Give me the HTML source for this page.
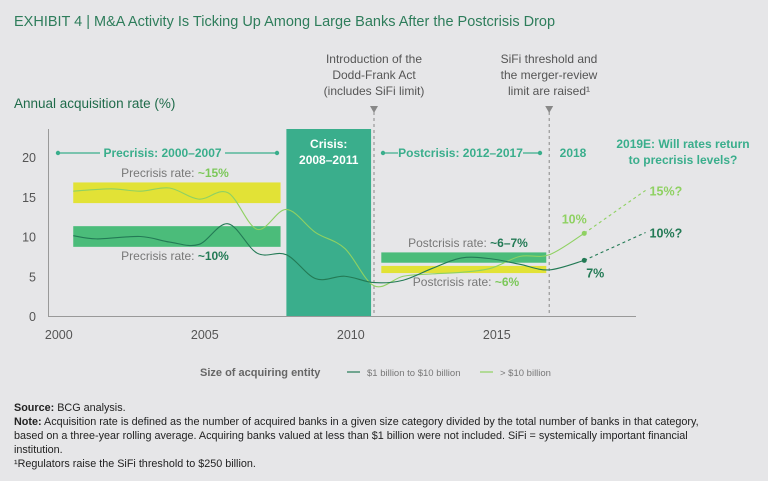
<!DOCTYPE html>
<html><head><meta charset="utf-8"><style>
body{margin:0;background:#e6e6e8;width:768px;height:481px;overflow:hidden;font-family:"Liberation Sans",sans-serif}
svg{position:absolute;left:0;top:0}
.notes{position:absolute;left:14px;top:401px;width:706px;font-size:10.8px;line-height:14px;color:#222}
</style></head><body>
<svg id="chart" width="768" height="395"></svg>
<div class="notes">
<div><b>Source:</b> BCG analysis.</div>
<div><b>Note:</b> Acquisition rate is defined as the number of acquired banks in a given size category divided by the total number of banks in that category, based on a three-year rolling average. Acquiring banks valued at less than $1 billion were not included. SiFi = systemically important financial institution.</div>
<div>¹Regulators raise the SiFi threshold to $250 billion.</div>
</div>
<script>
const yearsDark=[2000.7,2001.5,2003,2004,2005,2006,2007,2008,2009,2010,2011,2012,2013,2014,2015,2016,2017,2018.2];
const valsDark=[10.1,9.7,10,9.3,9,11.6,7.9,7.7,4.7,5,4.2,4.5,6,7.3,7.2,6.5,5.8,7];
const yearsLight=[2000.7,2002,2003,2004,2005,2006,2007,2008,2009,2010,2011,2012,2013,2014,2015,2016,2017,2018.2];
const valsLight=[15.7,16,15.7,16.1,14.7,15.5,10.9,13.4,10.5,8.5,3.8,5,5.3,5.5,6,7.5,7.7,10.4];
const forecastYear=2020.3, forecastDark=10.5, forecastLight=15.8;
const yTicks=[0,5,10,15,20];
const xTicks=[2000,2005,2010,2015];
const NS="http://www.w3.org/2000/svg";
const svg=document.getElementById('chart');
const X=y=>374+(y-2011)*29.2;
const Y=v=>316-v*7.95;
function el(t,a,txt){const e=document.createElementNS(NS,t);for(const k in a)e.setAttribute(k,a[k]);if(txt!=null)e.textContent=txt;svg.appendChild(e);return e;}
function smooth(pts){let d=`M${pts[0][0]},${pts[0][1]}`;for(let i=0;i<pts.length-1;i++){const p0=pts[i-1]||pts[i],p1=pts[i],p2=pts[i+1],p3=pts[i+2]||p2;const c1=[p1[0]+(p2[0]-p0[0])/6,p1[1]+(p2[1]-p0[1])/6],c2=[p2[0]-(p3[0]-p1[0])/6,p2[1]-(p3[1]-p1[1])/6];d+=`C${c1[0]},${c1[1]} ${c2[0]},${c2[1]} ${p2[0]},${p2[1]}`;}return d;}
const F='"Liberation Sans Narrow","Liberation Sans",sans-serif';
let e;
e=el('text',{x:14,y:26,fill:'#2e7d5b','font-size':14.5,'font-family':F},'EXHIBIT 4 | M&A Activity Is Ticking Up Among Large Banks After the Postcrisis Drop');

e=el('text',{x:14,y:108,fill:'#1f6b4a','font-size':13.5},'Annual acquisition rate (%)');

[['Introduction of the',63],['Dodd-Frank Act',79],['(includes SiFi limit)',95]].forEach(t=>{e=el('text',{x:374,y:t[1],'text-anchor':'middle',fill:'#555','font-size':12,'font-family':F},t[0]);});
[['SiFi threshold and',63],['the merger-review',79],['limit are raised¹',95]].forEach(t=>{e=el('text',{x:549,y:t[1],'text-anchor':'middle',fill:'#555','font-size':12,'font-family':F},t[0]);});
function band(x0,x1,v0,v1,c,n){e=el('rect',{x:X(x0),y:Y(v1),width:X(x1)-X(x0),height:Y(v0)-Y(v1),fill:c});}
band(2000.7,2007.8,14.2,16.8,'#e2e236','precrisis-large-band');
band(2000.7,2007.8,8.7,11.3,'#4bbc7a','precrisis-mid-band');
band(2011.25,2016.9,6.7,8,'#4bbc7a','postcrisis-mid-band');
band(2011.25,2016.9,5.4,6.3,'#e2e236','postcrisis-large-band');
e=el('rect',{x:X(2008),y:129,width:X(2010.9)-X(2008),height:316-129,fill:'#3aae8c'});

e=el('text',{x:(X(2008)+X(2010.9))/2,y:148,'text-anchor':'middle',fill:'#fff','font-size':12,'font-weight':'bold'},'Crisis:');
e=el('text',{x:(X(2008)+X(2010.9))/2,y:164,'text-anchor':'middle',fill:'#fff','font-size':12,'font-weight':'bold'},'2008–2011');
e=el('line',{x1:48.5,y1:129,x2:48.5,y2:316,stroke:'#999'});
e=el('line',{x1:48,y1:316.5,x2:636,y2:316.5,stroke:'#999'});
yTicks.forEach(v=>{e=el('text',{x:36,y:Y(v)+5,'text-anchor':'end',fill:'#555','font-size':12.5},v);});
xTicks.forEach(v=>{e=el('text',{x:X(v)+6,y:339,'text-anchor':'middle',fill:'#555','font-size':12.5},v);});
[2011,2017].forEach(yr=>{e=el('line',{x1:X(yr),y1:112,x2:X(yr),y2:316,stroke:'#888','stroke-dasharray':'3,3'});
e=el('path',{d:`M${X(yr)-4},106L${X(yr)+4},106L${X(yr)},113Z`,fill:'#888'});});
function period(x0,x1,lx0,lx1,txt,n){[[x0,lx0],[lx1,x1]].forEach(s=>{e=el('line',{x1:s[0],y1:153,x2:s[1],y2:153,stroke:'#3aae8c','stroke-width':1.2});});
[x0,x1].forEach(x=>{e=el('circle',{cx:x,cy:153,r:2.2,fill:'#3aae8c'});});
e=el('text',{x:(lx0+lx1)/2,y:157,'text-anchor':'middle',fill:'#3aae8c','font-size':12,'font-weight':'bold'},txt);}
period(58,277,100,225,'Precrisis: 2000–2007','precrisis');
period(383,540,398,523,'Postcrisis: 2012–2017','postcrisis');
e=el('text',{x:573,y:157,'text-anchor':'middle',fill:'#3aae8c','font-size':12,'font-weight':'bold'},'2018');
e=el('text',{x:683,y:148,'text-anchor':'middle',fill:'#3aae8c','font-size':12,'font-weight':'bold'},'2019E: Will rates return');
e=el('text',{x:683,y:164,'text-anchor':'middle',fill:'#3aae8c','font-size':12,'font-weight':'bold'},'to precrisis levels?');
function rl(x,y,a,b,c,n){e=el('text',{x:x,y:y,'text-anchor':'middle','font-size':12,fill:'#777'});
const t1=document.createElementNS(NS,'tspan');t1.textContent=a;e.appendChild(t1);const t2=document.createElementNS(NS,'tspan');t2.textContent=b;t2.setAttribute('fill',c);t2.setAttribute('font-weight','bold');e.appendChild(t2);}
rl(175,177,'Precrisis rate: ','~15%','#7cc85a','precrisis-large-rate');
rl(175,260,'Precrisis rate: ','~10%','#237a55','precrisis-mid-rate');
rl(468,247,'Postcrisis rate: ','~6–7%','#237a55','postcrisis-mid-rate');
rl(466,286,'Postcrisis rate: ','~6%','#7cc85a','postcrisis-large-rate');
function series(xs,vs,c,n,fv,fl,lblPt,lp){const pts=xs.map((x,i)=>[X(x),Y(vs[i])]);
e=el('path',{d:smooth(pts),fill:'none',stroke:c,'stroke-width':1.1});
const last=pts[pts.length-1];
e=el('circle',{cx:last[0],cy:last[1],r:2.5,fill:c});
e=el('line',{x1:last[0],y1:last[1],x2:X(forecastYear),y2:Y(fv),stroke:c,'stroke-width':1.1,'stroke-dasharray':'3,3'});
e=el('text',{x:X(forecastYear)+4,y:Y(fv)+5,fill:c,'font-size':12.5,'font-weight':'bold'},fl);
e=el('text',{x:last[0]+lp[0],y:last[1]+lp[1],'text-anchor':'middle',fill:c,'font-size':12.5,'font-weight':'bold'},lblPt);}
series(yearsLight,valsLight,'#8fd162','large-banks',forecastLight,'15%?','10%',[-10,-10]);
series(yearsDark,valsDark,'#237a55','mid-banks',forecastDark,'10%?','7%',[11,17]);
e=el('text',{x:200,y:376,fill:'#666','font-size':11,'font-weight':'bold'},'Size of acquiring entity');
e=el('line',{x1:347,y1:372,x2:360,y2:372,stroke:'#237a55','stroke-width':1.2});
e=el('text',{x:367,y:376,fill:'#777','font-size':9.5},'$1 billion to $10 billion');
e=el('line',{x1:480,y1:372,x2:493,y2:372,stroke:'#8fd162','stroke-width':1.2});
e=el('text',{x:500,y:376,fill:'#777','font-size':9.5},'> $10 billion');
</script>
</body></html>
